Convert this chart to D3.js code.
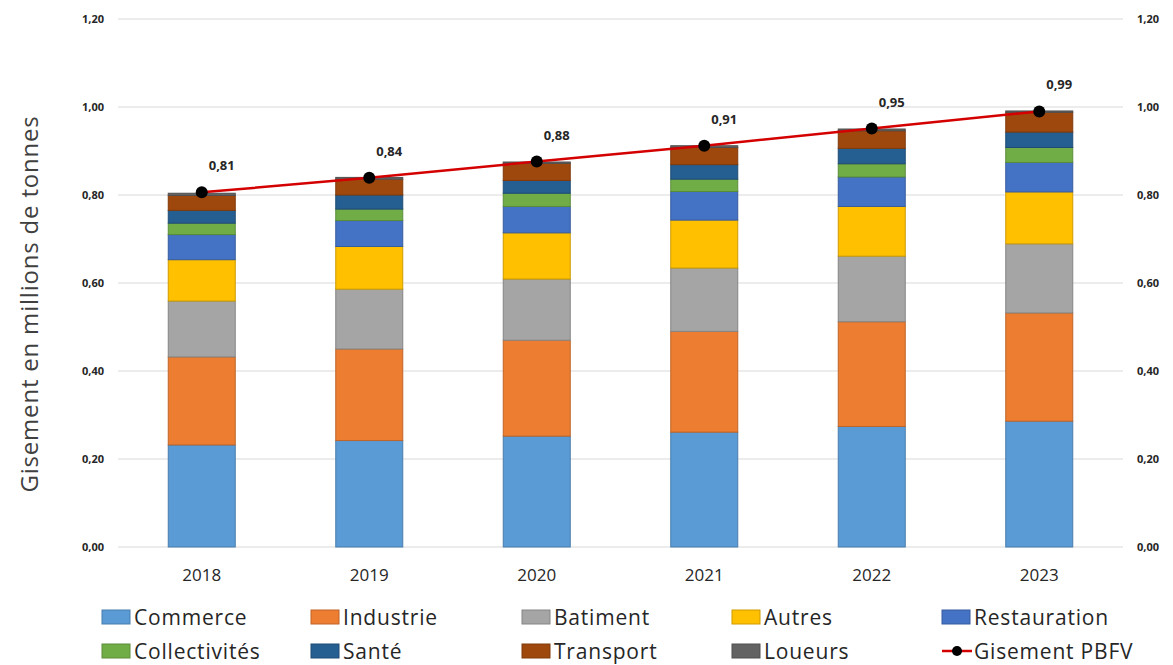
<!DOCTYPE html>
<html>
<head>
<meta charset="utf-8">
<script src="https://cdn.jsdelivr.net/npm/d3@7"></script>
<style>
  body { margin: 0; background: #fff; }
  svg { font-family: "Open Sans", sans-serif; }
</style>
</head>
<body>
<svg id="chart" width="1173" height="665"></svg>
<script>
// data (millions de tonnes)
var years = ["2018", "2019", "2020", "2021", "2022", "2023"];
var commerce      = [0.232, 0.242, 0.252, 0.261, 0.274, 0.286];
var industrie     = [0.200, 0.208, 0.218, 0.229, 0.238, 0.246];
var batiment      = [0.127, 0.136, 0.139, 0.144, 0.149, 0.157];
var autres        = [0.094, 0.097, 0.105, 0.109, 0.113, 0.118];
var restauration  = [0.057, 0.059, 0.060, 0.065, 0.067, 0.067];
var collectivites = [0.026, 0.026, 0.030, 0.028, 0.030, 0.034];
var sante         = [0.029, 0.032, 0.029, 0.033, 0.035, 0.035];
var transport     = [0.034, 0.036, 0.039, 0.039, 0.040, 0.045];
var loueurs       = [0.005, 0.004, 0.003, 0.004, 0.004, 0.003];
var gisement      = [0.806, 0.839, 0.876, 0.912, 0.951, 0.990];
var yTicks = [0, 0.2, 0.4, 0.6, 0.8, 1.0, 1.2];

var seriesNames = ["Commerce", "Industrie", "Batiment", "Autres", "Restauration",
                   "Collectivités", "Santé", "Transport", "Loueurs"];
var seriesValues = [commerce, industrie, batiment, autres, restauration,
                    collectivites, sante, transport, loueurs];
var colors = ["#5B9BD5", "#ED7D31", "#A5A5A5", "#FFC000", "#4472C4",
              "#70AD47", "#255E91", "#9E480E", "#636363"];

function render() {
    var svg = d3.select("#chart");
    var plotLeft = 118, plotRight = 1123, plotTop = 19, plotBottom = 547;

    var fmt = function(v) { return d3.format(".2f")(v).replace(".", ","); };

    // table for d3.stack
    var table = years.map(function(y, i) {
        var row = { year: y };
        seriesNames.forEach(function(s, k) { row[s] = seriesValues[k][i]; });
        return row;
    });
    var stacked = d3.stack().keys(seriesNames)(table);

    var xs = d3.scaleBand().domain(years).range([plotLeft, plotRight])
                .paddingInner(0.6).paddingOuter(0.3);
    var ys = d3.scaleLinear().domain([0, 1.2]).range([plotBottom, plotTop]);

    // grid
    svg.append("g")
        .selectAll("line")
        .data(yTicks)
        .enter()
        .append("line")
            .attr("x1", plotLeft).attr("x2", plotRight)
            .attr("y1", function(d) { return ys(d); })
            .attr("y2", function(d) { return ys(d); })
            .attr("stroke", "#d9d9d9")
            .attr("stroke-width", 1.2);

    // left + right tick labels
    var yAxisL = d3.axisLeft(ys).tickValues(yTicks).tickFormat(fmt).tickSize(0).tickPadding(14);
    var yAxisR = d3.axisRight(ys).tickValues(yTicks).tickFormat(fmt).tickSize(0).tickPadding(14);
    var gl = svg.append("g").attr("transform", "translate(" + plotLeft + ",0)").call(yAxisL);
    var gr = svg.append("g").attr("transform", "translate(" + plotRight + ",0)").call(yAxisR);
    [gl, gr].forEach(function(g) {
        g.select(".domain").remove();
        g.selectAll("text")
            .attr("font-family", "Open Sans, sans-serif")
            .attr("font-size", 11)
            .attr("font-weight", "bold")
            .attr("fill", "#262626");
    });

    // bars
    svg.append("g")
        .selectAll("g")
        .data(stacked)
        .enter()
        .append("g")
            .attr("fill", function(d, i) { return colors[i]; })
            .attr("stroke", function(d, i) { return d3.color(colors[i]).darker(0.6); })
            .attr("stroke-width", 1)
        .selectAll("rect")
        .data(function(d) { return d; })
        .enter()
        .append("rect")
            .attr("x", function(d) { return xs(d.data.year); })
            .attr("width", xs.bandwidth())
            .attr("y", function(d) { return ys(d[1]); })
            .attr("height", function(d) { return ys(d[0]) - ys(d[1]); });

    // x labels
    var xAxis = d3.axisBottom(xs).tickSize(0).tickPadding(22);
    var gx = svg.append("g").attr("transform", "translate(0," + plotBottom + ")").call(xAxis);
    gx.select(".domain").remove();
    gx.selectAll("text")
        .attr("font-family", "Open Sans, sans-serif")
        .attr("font-size", 17)
        .attr("fill", "#262626");

    // line
    var cx = function(d, i) { return xs(years[i]) + xs.bandwidth() / 2; };
    var line = d3.line().x(cx).y(function(d) { return ys(d); });
    svg.append("path")
        .datum(gisement)
        .attr("d", line)
        .attr("fill", "none")
        .attr("stroke", "#d40000")
        .attr("stroke-width", 2.5);
    svg.append("g")
        .selectAll("circle")
        .data(gisement)
        .enter()
        .append("circle")
            .attr("cx", cx)
            .attr("cy", function(d) { return ys(d); })
            .attr("r", 6)
            .attr("fill", "#000");
    svg.append("g")
        .selectAll("text")
        .data(gisement)
        .enter()
        .append("text")
            .attr("x", function(d, i) { return cx(d, i) + 20; })
            .attr("y", function(d) { return ys(d) - 22; })
            .attr("text-anchor", "middle")
            .attr("font-size", 13)
            .attr("font-weight", "bold")
            .attr("fill", "#262626")
            .text(fmt);

    // y title
    svg.append("text")
        .attr("transform", "translate(38,304) rotate(-90)")
        .attr("text-anchor", "middle")
        .attr("font-size", 24)
        .attr("letter-spacing", 0.8)
        .attr("fill", "#404040")
        .text("Gisement en millions de tonnes");

    // legend
    var colX = [102, 311, 522, 732, 942];
    var rowY = [617, 651];
    var legendItems = seriesNames.concat(["Gisement PBFV"]);
    var leg = svg.append("g")
        .selectAll("g")
        .data(legendItems)
        .enter()
        .append("g")
            .attr("transform", function(d, i) {
                return "translate(" + colX[i % 5] + "," + rowY[Math.floor(i / 5)] + ")";
            });
    leg.each(function(d, i) {
        var g = d3.select(this);
        if (i < colors.length) {
            g.append("rect")
                .attr("x", 0).attr("y", -7)
                .attr("width", 28).attr("height", 14)
                .attr("fill", colors[i])
                .attr("stroke", d3.color(colors[i]).darker(0.6));
        } else {
            g.append("line")
                .attr("x1", 0).attr("x2", 30).attr("y1", 0).attr("y2", 0)
                .attr("stroke", "#d40000").attr("stroke-width", 2.5);
            g.append("circle").attr("cx", 15).attr("cy", 0).attr("r", 5).attr("fill", "#000");
        }
        g.append("text")
            .attr("x", 32)
            .attr("y", 8)
            .attr("font-size", 21)
            .attr("letter-spacing", 0.8)
            .attr("fill", "#262626")
            .text(d);
    });
}

render();
</script>
</body>
</html>
